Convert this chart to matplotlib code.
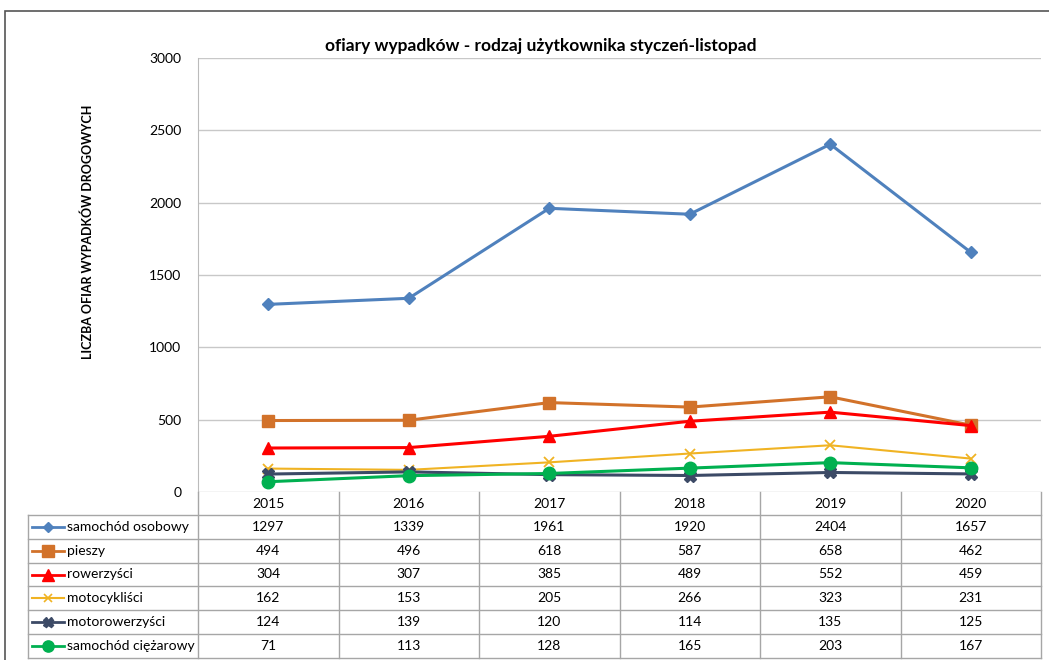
import matplotlib.pyplot as plt
from matplotlib.lines import Line2D
from matplotlib.patches import Rectangle

# dane
lata = ["2015", "2016", "2017", "2018", "2019", "2020"]
samochod_osobowy = [1297, 1339, 1961, 1920, 2404, 1657]
pieszy = [494, 496, 618, 587, 658, 462]
rowerzysci = [304, 307, 385, 489, 552, 459]
motocyklisci = [162, 153, 205, 266, 323, 231]
motorowerzysci = [124, 139, 120, 114, 135, 125]
samochod_ciezarowy = [71, 113, 128, 165, 203, 167]
nazwy = ["samochód osobowy", "pieszy", "rowerzyści", "motocykliści",
         "motorowerzyści", "samochód ciężarowy"]
y_ticks = [0, 500, 1000, 1500, 2000, 2500, 3000]

serie = [samochod_osobowy, pieszy, rowerzysci, motocyklisci,
         motorowerzysci, samochod_ciezarowy]
kolory = ["#4f81bd", "#d2722a", "#ff0000", "#f0b323", "#3c4a66", "#00b050"]
markery = ["D", "s", "^", "x", "X", "o"]
rozmiary = [6, 9, 9, 7, 8, 9]
grubosci = [2.2, 2.2, 2.2, 1.5, 2.2, 2.2]

plt.rcParams['font.family'] = ['Lato', 'DejaVu Sans']

W, H = 1049, 660
fig = plt.figure(figsize=(W / 100, H / 100), dpi=100)

def fx(px):
    return px / W

def fy(py):
    return 1 - py / H

# ramka wykresu
fig.patches.append(Rectangle((fx(5), fy(700)), fx(1100), fy(11) - fy(700),
                             transform=fig.transFigure, fill=False,
                             edgecolor="#555555", lw=1.2))

left, right, top, bottom = 198, 1041, 58, 492
ax = fig.add_axes([fx(left), fy(bottom), fx(right - left), fy(top) - fy(bottom)])
x = list(range(len(lata)))
for s, c, m, ms, lw in zip(serie, kolory, markery, rozmiary, grubosci):
    mew = 1.3 if m == "x" else 1
    ax.plot(x, s, color=c, marker=m, markersize=ms, lw=lw, mew=mew)
ax.set_xlim(-0.5, len(lata) - 0.5)
ax.set_ylim(0, 3000)
ax.set_yticks(y_ticks)
ax.set_yticklabels([str(v) for v in y_ticks], fontsize=10)
ax.set_xticks([])
ax.grid(axis="y", color="#c8c8c8", lw=1)
ax.set_axisbelow(True)
for sp in ["top", "right", "bottom"]:
    ax.spines[sp].set_visible(False)
ax.spines["left"].set_color("#bbbbbb")
ax.tick_params(axis="y", length=0, pad=12)
fig.text(fx(541), fy(46), "ofiary wypadków - rodzaj użytkownika styczeń-listopad",
         ha="center", va="center", fontsize=12.5, fontweight="bold")
fig.text(fx(88), fy(232), "LICZBA OFIAR WYPADKÓW DROGOWYCH", rotation=90,
         ha="center", va="center", fontsize=9, fontweight="bold")

# tabela danych
lc = "#a6a6a6"
tab_left = 28
row_h = 23.8
col_w = (right - left) / len(lata)
head_top = bottom
rows_top = 515

def hline(y, x0, x1):
    fig.add_artist(Line2D([fx(x0), fx(x1)], [fy(y), fy(y)], color=lc, lw=1))

def vline(xp, y0, y1):
    fig.add_artist(Line2D([fx(xp), fx(xp)], [fy(y0), fy(y1)], color=lc, lw=1))

tab_bottom = rows_top + row_h * len(nazwy)
hline(rows_top, tab_left, right)
for i in range(1, len(nazwy) + 1):
    hline(rows_top + i * row_h, tab_left, right)
vline(tab_left, rows_top, tab_bottom)
for j in range(len(lata) + 1):
    vline(left + j * col_w, head_top, tab_bottom)

for j, rok in enumerate(lata):
    fig.text(fx(left + (j + 0.5) * col_w), fy((head_top + rows_top) / 2), rok,
             ha="center", va="center", fontsize=10)

for i, (nazwa, s, c, m) in enumerate(zip(nazwy, serie, kolory, markery)):
    yc = rows_top + (i + 0.5) * row_h
    fig.add_artist(Line2D([fx(32), fx(64)], [fy(yc), fy(yc)], color=c,
                          lw=2 if grubosci[i] > 2 else 1.5))
    fig.add_artist(Line2D([fx(48)], [fy(yc)], color=c, marker=m,
                          markersize=rozmiary[i] * 0.9, mew=1.2 if m == "x" else 1))
    fig.text(fx(67), fy(yc), nazwa, ha="left", va="center", fontsize=10)
    for j, v in enumerate(s):
        fig.text(fx(left + (j + 0.5) * col_w), fy(yc), str(v),
                 ha="center", va="center", fontsize=10)

fig.savefig("out.png", dpi=100)
